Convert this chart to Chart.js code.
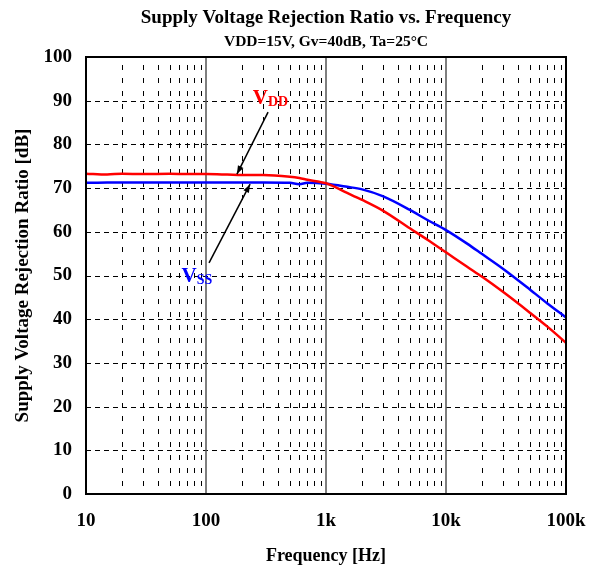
<!DOCTYPE html>
<html>
<head>
<meta charset="utf-8">
<title>Supply Voltage Rejection Ratio vs. Frequency</title>
<script src="https://cdn.jsdelivr.net/npm/chart.js@4/dist/chart.umd.min.js"></script>
<style>
  html, body { margin: 0; padding: 0; background: #fff; }
  #svrChart { display: block; }
</style>
</head>
<body>
<canvas id="svrChart" width="594" height="569"></canvas>
<script>
// measured points, Hz
const freqHz = [10, 15, 20, 30, 50, 70, 100, 150, 200, 300, 500, 600, 700, 1000, 1500, 2000, 3000, 5000, 7000, 10000, 15000, 20000, 30000, 50000, 70000, 100000];
// rejection ratio, dB
const vddDb = [73.3, 73.1, 73.3, 73.2, 73.3, 73.2, 73.2, 73.1, 73.0, 73.0, 72.6, 72.3, 71.9, 71.1, 68.9, 67.3, 64.8, 60.8, 58.2, 55.3, 52.0, 49.7, 46.2, 41.5, 38.3, 34.6];
const vssDb = [71.2, 71.3, 71.3, 71.3, 71.3, 71.3, 71.3, 71.3, 71.3, 71.3, 71.2, 70.9, 71.2, 71.0, 70.3, 69.7, 68.1, 65.0, 62.7, 60.4, 57.3, 54.9, 51.5, 46.8, 43.6, 40.4];

const decadeLabels = { 10: '10', 100: '100', 1000: '1k', 10000: '10k', 100000: '100k' };
const yTicks = [0, 10, 20, 30, 40, 50, 60, 70, 80, 90, 100];

// curve labels and their arrows, in data units (Hz, dB)
const curveNotes = [
  { main: 'V', sub: 'DD', color: '#ff0000', at: [345, 90.8], from: [329, 87.4], to: [181, 73.2] },
  { main: 'V', sub: 'SS', color: '#0000ff', at: [84, 50.1], from: [106, 52.9], to: [233, 70.9] }
];

const serif = "'Liberation Serif', 'Times New Roman', serif";

function toPoints(xs, ys) {
  return xs.map((x, i) => ({ x: x, y: ys[i] }));
}

// grid lines: solid at decades, dashed for the 2..9 lines and every 10 dB
const gridPlugin = {
  id: 'svrGrid',
  beforeDatasetsDraw(chart) {
    const { ctx, chartArea: a, scales: { x, y } } = chart;
    ctx.save();
    ctx.beginPath();
    ctx.rect(a.left, a.top, a.right - a.left, a.bottom - a.top);
    ctx.clip();

    ctx.strokeStyle = '#000';
    ctx.lineWidth = 1;
    ctx.setLineDash([5, 4]);
    yTicks.forEach(v => {
      const py = Math.round(y.getPixelForValue(v)) + 0.5;
      ctx.beginPath();
      ctx.moveTo(a.left, py);
      ctx.lineTo(a.right, py);
      ctx.stroke();
    });

    for (let d = 10; d < 100000; d *= 10) {
      for (let m = 2; m <= 9; m++) {
        const px = Math.round(x.getPixelForValue(d * m)) + 0.5;
        ctx.setLineDash([5, 8]);
        ctx.beginPath();
        ctx.moveTo(px, a.top + 8);
        ctx.lineTo(px, a.bottom);
        ctx.stroke();
      }
    }

    ctx.setLineDash([]);
    ctx.strokeStyle = '#555';
    ctx.lineWidth = 1.5;
    [100, 1000, 10000].forEach(v => {
      const px = Math.round(x.getPixelForValue(v));
      ctx.beginPath();
      ctx.moveTo(px, a.top);
      ctx.lineTo(px, a.bottom);
      ctx.stroke();
    });
    ctx.restore();
  },
  afterDatasetsDraw(chart) {
    const { ctx, chartArea: a, scales: { x, y } } = chart;
    ctx.save();
    ctx.strokeStyle = '#000';
    ctx.lineWidth = 2;
    ctx.strokeRect(a.left, a.top, a.right - a.left, a.bottom - a.top);

    curveNotes.forEach(n => {
      const x0 = x.getPixelForValue(n.from[0]), y0 = y.getPixelForValue(n.from[1]);
      const x1 = x.getPixelForValue(n.to[0]), y1 = y.getPixelForValue(n.to[1]);
      ctx.strokeStyle = '#000';
      ctx.lineWidth = 1.5;
      ctx.beginPath();
      ctx.moveTo(x0, y0);
      ctx.lineTo(x1, y1);
      ctx.stroke();
      // arrow head
      const ang = Math.atan2(y1 - y0, x1 - x0);
      ctx.fillStyle = '#000';
      ctx.beginPath();
      ctx.moveTo(x1, y1);
      ctx.lineTo(x1 - 9 * Math.cos(ang - 0.35), y1 - 9 * Math.sin(ang - 0.35));
      ctx.lineTo(x1 - 9 * Math.cos(ang + 0.35), y1 - 9 * Math.sin(ang + 0.35));
      ctx.closePath();
      ctx.fill();

      // V with subscript
      const tx = x.getPixelForValue(n.at[0]), ty = y.getPixelForValue(n.at[1]);
      ctx.fillStyle = n.color;
      ctx.textBaseline = 'alphabetic';
      ctx.font = 'bold 21px ' + serif;
      const wMain = ctx.measureText(n.main).width;
      ctx.font = 'bold 14px ' + serif;
      const wSub = ctx.measureText(n.sub).width;
      const left = tx - (wMain + wSub) / 2;
      ctx.font = 'bold 21px ' + serif;
      ctx.textAlign = 'left';
      ctx.fillText(n.main, left, ty + 7);
      ctx.font = 'bold 14px ' + serif;
      ctx.fillText(n.sub, left + wMain, ty + 9);
    });
    ctx.restore();
  }
};

const config = {
  type: 'line',
  data: {
    datasets: [
      {
        label: 'VDD',
        data: toPoints(freqHz, vddDb),
        borderColor: '#ff0000',
        borderWidth: 2.5,
        pointRadius: 0,
        cubicInterpolationMode: 'monotone'
      },
      {
        label: 'VSS',
        data: toPoints(freqHz, vssDb),
        borderColor: '#0000ff',
        borderWidth: 2.5,
        pointRadius: 0,
        cubicInterpolationMode: 'monotone'
      }
    ]
  },
  options: {
    responsive: false,
    animation: false,
    layout: { padding: { left: 0, right: 28, top: 0, bottom: 0 } },
    scales: {
      x: {
        type: 'logarithmic',
        min: 10,
        max: 100000,
        grid: { display: false, drawTicks: false },
        border: { display: false },
        ticks: {
          autoSkip: false,
          maxRotation: 0,
          padding: 16,
          color: '#000',
          font: { family: serif, size: 19, weight: 'bold' },
          callback: v => decadeLabels[v] || ''
        },
        title: {
          display: true,
          text: 'Frequency [Hz]',
          color: '#000',
          font: { family: serif, size: 18, weight: 'bold' },
          padding: { top: 0, bottom: 2 }
        },
        // fixed box, "100k" may hang past the plot edge
        afterFit: s => {
          s.height = 75;
          s.paddingLeft = 0;
          s.paddingRight = 0;
        }
      },
      y: {
        min: 0,
        max: 100,
        grid: { display: false, drawTicks: false },
        border: { display: false },
        ticks: {
          stepSize: 10,
          padding: 14,
          color: '#000',
          font: { family: serif, size: 19, weight: 'bold' }
        },
        title: {
          display: true,
          text: 'Supply Voltage Rejection Ratio [dB]',
          color: '#000',
          font: { family: serif, size: 19, weight: 'bold' },
          padding: { top: 12, bottom: 0 }
        },
        afterFit: s => { s.width = 86; }
      }
    },
    plugins: {
      legend: { display: false },
      tooltip: { enabled: false },
      title: {
        display: true,
        fullSize: false,
        text: 'Supply Voltage Rejection Ratio vs. Frequency',
        color: '#000',
        font: { family: serif, size: 19, weight: 'bold' },
        padding: { top: 6.6, bottom: 3.3 }
      },
      subtitle: {
        display: true,
        fullSize: false,
        text: 'VDD=15V, Gv=40dB, Ta=25°C',
        color: '#000',
        font: { family: serif, size: 15.5, weight: 'bold' },
        padding: { top: 0, bottom: 5.7 }
      }
    }
  },
  plugins: [gridPlugin]
};

const svrChart = new Chart(document.getElementById('svrChart'), config);
</script>
</body>
</html>
